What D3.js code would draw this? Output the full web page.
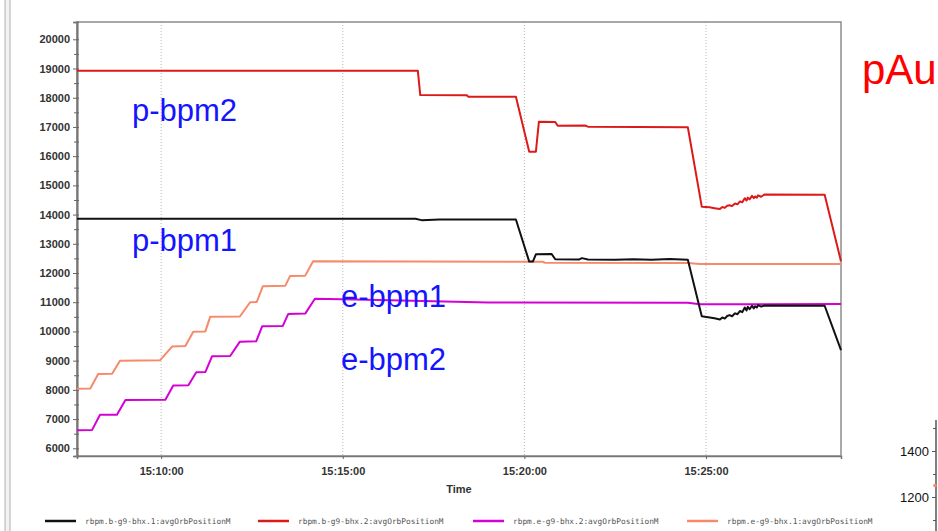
<!DOCTYPE html>
<html>
<head>
<meta charset="utf-8">
<script src="https://cdn.jsdelivr.net/npm/d3@7"></script>
<style>
  body { margin: 0; background: #fff; }
  svg { display: block; }
</style>
</head>
<body>
<div class="chart"></div>
<script>
const WIDTH = 938;
const HEIGHT = 531;
const LEFT = 77, RIGHT = 841, TOP = 22, BOTTOM = 456;

// series: [time, value]
var pBpm2 = [
  ["15:07:41", 18925], ["15:17:04", 18925], ["15:17:08", 18090], ["15:18:25", 18085],
  ["15:18:27", 18035], ["15:19:46", 18030], ["15:20:08", 16150], ["15:20:19", 16150],
  ["15:20:24", 17180], ["15:20:51", 17170], ["15:20:55", 17040], ["15:21:40", 17050],
  ["15:21:45", 17010], ["15:24:30", 16990], ["15:24:53", 14270], ["15:25:06", 14250],
  ["15:25:14", 14220], ["15:25:23", 14190], ["15:25:27", 14260], ["15:25:31", 14230],
  ["15:25:35", 14300], ["15:25:39", 14320], ["15:25:43", 14290], ["15:25:48", 14380],
  ["15:25:52", 14350], ["15:25:56", 14450], ["15:26:00", 14420], ["15:26:04", 14560],
  ["15:26:07", 14480], ["15:26:09", 14580], ["15:26:12", 14520], ["15:26:16", 14640],
  ["15:26:19", 14560], ["15:26:21", 14620], ["15:26:24", 14580], ["15:26:26", 14660],
  ["15:26:31", 14610], ["15:26:37", 14690], ["15:28:16", 14680], ["15:28:43", 12400]
];
var pBpm1 = [
  ["15:07:41", 13860], ["15:17:00", 13860], ["15:17:10", 13810], ["15:17:40", 13830],
  ["15:19:46", 13830], ["15:20:08", 12390], ["15:20:14", 12390], ["15:20:19", 12640],
  ["15:20:45", 12650], ["15:20:51", 12470], ["15:21:30", 12460], ["15:21:35", 12510],
  ["15:21:45", 12460], ["15:22:30", 12450], ["15:23:00", 12470], ["15:23:30", 12450],
  ["15:24:00", 12480], ["15:24:30", 12450], ["15:24:53", 10520], ["15:25:06", 10480],
  ["15:25:14", 10450], ["15:25:23", 10410], ["15:25:27", 10480], ["15:25:31", 10440],
  ["15:25:35", 10530], ["15:25:39", 10560], ["15:25:43", 10520], ["15:25:48", 10620],
  ["15:25:52", 10590], ["15:25:56", 10700], ["15:26:00", 10660], ["15:26:04", 10820],
  ["15:26:07", 10720], ["15:26:09", 10840], ["15:26:12", 10760], ["15:26:16", 10880],
  ["15:26:19", 10790], ["15:26:21", 10860], ["15:26:24", 10820], ["15:26:26", 10900],
  ["15:26:31", 10850], ["15:26:37", 10890], ["15:28:16", 10880], ["15:28:43", 9360]
];
var eBpm2 = [
  ["15:07:41", 6620], ["15:08:06", 6630], ["15:08:19", 7150], ["15:08:47", 7150],
  ["15:09:01", 7650], ["15:10:07", 7660], ["15:10:20", 8150], ["15:10:45", 8160],
  ["15:10:58", 8600], ["15:11:13", 8610], ["15:11:24", 9150], ["15:11:54", 9160],
  ["15:12:10", 9650], ["15:12:37", 9660], ["15:12:47", 10180], ["15:13:21", 10190],
  ["15:13:30", 10600], ["15:13:58", 10610], ["15:14:14", 11120], ["15:16:00", 11080],
  ["15:19:00", 10990], ["15:24:30", 10980], ["15:24:50", 10930], ["15:28:43", 10935]
];
var eBpm1 = [
  ["15:07:41", 8040], ["15:08:03", 8050], ["15:08:16", 8540], ["15:08:39", 8550],
  ["15:08:52", 9000], ["15:09:58", 9010], ["15:10:18", 9480], ["15:10:40", 9500],
  ["15:10:53", 9990], ["15:11:13", 10000], ["15:11:21", 10500], ["15:12:10", 10510],
  ["15:12:27", 11000], ["15:12:38", 11010], ["15:12:48", 11550], ["15:13:25", 11560],
  ["15:13:33", 11900], ["15:13:58", 11910], ["15:14:11", 12400], ["15:20:30", 12385],
  ["15:20:34", 12350], ["15:24:30", 12340], ["15:24:50", 12305], ["15:28:43", 12305]
];

var seriesNames = ["rbpm.b-g9-bhx.1:avgOrbPositionM", "rbpm.b-g9-bhx.2:avgOrbPositionM",
                   "rbpm.e-g9-bhx.2:avgOrbPositionM", "rbpm.e-g9-bhx.1:avgOrbPositionM"];
var seriesColors = ["#111111", "#dd1a1a", "#d400d4", "#f68a6a"];
var seriesData = [pBpm1, pBpm2, eBpm2, eBpm1];

var labels = ["p-bpm2", "p-bpm1", "e-bpm1", "e-bpm2"];
var labelPos = [[132, 121], [132, 251], [341, 307], [341, 370]];

var timeDomain = ["15:07:41", "15:28:43"];
var yMajor = d3.range(6000, 20001, 1000);
var yMinor = d3.range(6500, 20001, 1000);
var sideTicks = [1200, 1400];

var parse = d3.timeParse("%H:%M:%S");

var translate = function (x, y) {
  return 'translate(' + x + ',' + y + ')';
};

var xScale = d3.scaleTime()
  .domain(timeDomain.map(parse))
  .range([LEFT, RIGHT]);

var yScale = d3.scaleLinear()
  .domain([5736, 20592])
  .range([BOTTOM, TOP]);

var svg = d3.select('.chart').append('svg')
  .attr('width', WIDTH)
  .attr('height', HEIGHT)
  .style('font-family', 'Liberation Sans, Arial, sans-serif');

// window frame on the left
svg.append('rect')
  .attr('x', 5).attr('y', -2).attr('width', 5).attr('height', HEIGHT + 4)
  .attr('fill', '#f2f2f2').attr('stroke', '#b0b0b0').attr('stroke-width', 1);

// vertical dotted grid
var xTicks = xScale.ticks(d3.timeMinute.every(5));
svg.append('g').selectAll('line').data(xTicks)
  .enter().append('line')
  .attr('x1', function (d) { return xScale(d); })
  .attr('x2', function (d) { return xScale(d); })
  .attr('y1', TOP).attr('y2', BOTTOM)
  .attr('stroke', '#b8b8b8').attr('stroke-width', 1)
  .attr('stroke-dasharray', '1,2');

// plot frame
svg.append('rect')
  .attr('x', LEFT).attr('y', TOP)
  .attr('width', RIGHT - LEFT).attr('height', BOTTOM - TOP)
  .attr('fill', 'none').attr('stroke', '#8c8c8c').attr('stroke-width', 1.5);

// y axis
var yAxis = d3.axisLeft(yScale).tickValues(yMajor).tickSize(4).tickPadding(3)
  .tickFormat(d3.format('d'));
var gy = svg.append('g').attr('transform', translate(LEFT, 0)).call(yAxis);
svg.append('g').attr('transform', translate(LEFT, 0))
  .call(d3.axisLeft(yScale).tickValues(yMinor).tickSize(3).tickFormat(''));
svg.append('g').attr('transform', translate(LEFT, 0))
  .call(d3.axisRight(yScale).tickValues(yMajor.concat(yMinor)).tickSize(2).tickFormat(''));

// x axis
var xAxis = d3.axisBottom(xScale).tickValues(xTicks)
  .tickFormat(d3.timeFormat('%H:%M:%S')).tickSize(3).tickPadding(8);
var gx = svg.append('g').attr('transform', translate(0, BOTTOM)).call(xAxis);

svg.selectAll('.domain').attr('stroke', '#777').attr('stroke-width', 1.5);
svg.selectAll('.tick line').attr('stroke', '#666');
svg.selectAll('.tick text')
  .attr('fill', '#333').style('font-size', '11px').style('font-weight', 'bold')
  .style('font-family', 'Liberation Sans, Arial, sans-serif');

svg.append('text')
  .attr('x', 459).attr('y', 493)
  .attr('text-anchor', 'middle')
  .attr('fill', '#333').style('font-size', '11px').style('font-weight', 'bold')
  .text('Time');

// lines
var line = d3.line()
  .x(function (d) { return xScale(parse(d[0])); })
  .y(function (d) { return yScale(d[1]); });

var order = [3, 2, 0, 1];
order.forEach(function (i) {
  svg.append('path')
    .attr('d', line(seriesData[i]))
    .attr('fill', 'none')
    .attr('stroke', seriesColors[i])
    .attr('stroke-width', 2)
    .attr('stroke-linejoin', 'round');
});

// annotations
svg.append('g').selectAll('text').data(labels)
  .enter().append('text')
  .attr('x', function (d, i) { return labelPos[i][0]; })
  .attr('y', function (d, i) { return labelPos[i][1]; })
  .attr('fill', '#1414ff')
  .style('font-size', '31px')
  .text(function (d) { return d; });

svg.append('text')
  .attr('x', 862).attr('y', 84)
  .attr('fill', '#ff0000')
  .style('font-size', '42px')
  .text('pAu');

// legend
var legendX = [45, 258, 473, 687];
var legend = svg.append('g').selectAll('g').data(seriesNames)
  .enter().append('g')
  .attr('transform', function (d, i) { return translate(legendX[i], 521); });
legend.append('line')
  .attr('x1', 0).attr('x2', 31).attr('y1', 0).attr('y2', 0)
  .attr('stroke', function (d, i) { return seriesColors[i]; })
  .attr('stroke-width', 2.5);
legend.append('text')
  .attr('x', 40).attr('y', 3)
  .attr('fill', '#555')
  .style('font-size', '7.8px')
  .style('font-family', 'DejaVu Sans Mono, monospace')
  .text(function (d) { return d; });

// fragment of a neighbouring chart's axis at the right edge
var sideScale = d3.scaleLinear().domain([1200, 1400]).range([497, 451]);
var sideAxis = d3.axisLeft(sideScale).tickValues(sideTicks).tickSize(4).tickPadding(3)
  .tickFormat(d3.format('d'));
var gs = svg.append('g').attr('transform', translate(936, 0)).call(sideAxis);
gs.select('.domain').remove();
gs.append('line').attr('x1', 0).attr('x2', 0).attr('y1', 420).attr('y2', HEIGHT)
  .attr('stroke', '#555').attr('stroke-width', 1.5);
gs.selectAll('.tick text').attr('fill', '#111').style('font-size', '13px')
  .style('font-family', 'Liberation Sans, Arial, sans-serif');
gs.selectAll('.tick line').attr('stroke', '#555');
svg.append('g').attr('transform', translate(936, 0))
  .call(d3.axisLeft(sideScale).tickValues([1100, 1300, 1500]).tickSize(3).tickFormat(''))
  .call(function (g) { g.select('.domain').remove(); })
  .selectAll('.tick line').attr('stroke', '#555');
svg.append('circle')
  .attr('cx', 935).attr('cy', sideScale(1250)).attr('r', 1.8)
  .attr('fill', '#f68a6a');
</script>
</body>
</html>
